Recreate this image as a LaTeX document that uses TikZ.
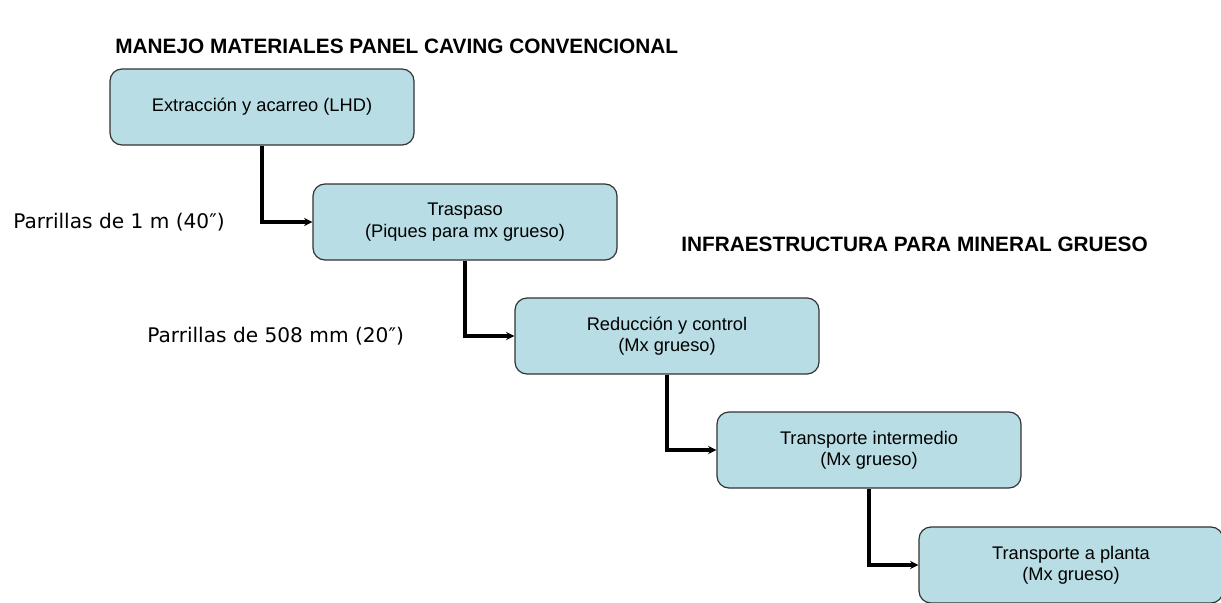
\documentclass[tikz,border=0pt]{standalone}
\usepackage{fontspec}
\setmainfont{Liberation Sans}
\newfontfamily\labelfont{DejaVu Sans}
\usetikzlibrary{arrows.meta,positioning}
\definecolor{boxfill}{HTML}{B8DDE5}
\definecolor{boxline}{HTML}{333333}
\begin{document}
\begin{tikzpicture}[
 x=0.75pt,y=-0.75pt,
 font=\fontsize{13.7}{16}\selectfont,
 stage/.style={draw=boxline,fill=boxfill,rounded corners=9pt,minimum width=228pt,minimum height=57pt,align=center,line width=0.9pt},
 arr/.style={-{Stealth[length=2.2mm,width=2.2mm]},line width=2.4pt},
 grid/.style={font=\labelfont\fontsize{15.1}{18}\selectfont,anchor=west,inner xsep=0pt},
 heading/.style={font=\bfseries\fontsize{15.6}{18}\selectfont,anchor=west,inner xsep=0pt}]
\useasboundingbox (0,0) rectangle (1221,603);
\node[heading] (title) at (115,46) {MANEJO MATERIALES PANEL CAVING CONVENCIONAL};
\node[heading] (infra) at (681,244) {INFRAESTRUCTURA PARA MINERAL GRUESO};
\node[stage] (s1) at (262,107) {Extracción y acarreo (LHD)};
\node[stage] (s2) at (465,222) {Traspaso\\(Piques para mx grueso)};
\node[stage] (s3) at (667,336) {Reducción y control\\(Mx grueso)};
\node[stage] (s4) at (869,450) {Transporte intermedio\\(Mx grueso)};
\node[stage] (s5) at (1071,565) {Transporte a planta\\(Mx grueso)};
\node[grid] (g1) at (13,222) {Parrillas de 1 m (40″)};
\node[grid] (g2) at (147,336) {Parrillas de 508 mm (20″)};
\draw[arr] (s1.south) |- (s2.west);
\draw[arr] (s2.south) |- (s3.west);
\draw[arr] (s3.south) |- (s4.west);
\draw[arr] (s4.south) |- (s5.west);
\end{tikzpicture}
\end{document}
